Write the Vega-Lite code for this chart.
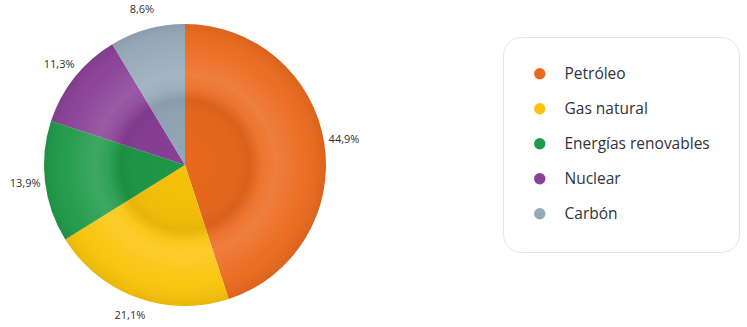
{
  "$schema": "https://vega.github.io/schema/vega-lite/v6.json",
  "width": 370,
  "height": 330,
  "padding": 0,
  "background": "white",
  "config": {
    "view": {"stroke": null},
    "font": "Open Sans"
  },
  "data": {
    "values": [
      {"fuente": "Petróleo", "orden": 1, "porcentaje": 44.9, "etiqueta": "44,9%"},
      {"fuente": "Gas natural", "orden": 2, "porcentaje": 21.1, "etiqueta": "21,1%"},
      {"fuente": "Energías renovables", "orden": 3, "porcentaje": 13.9, "etiqueta": "13,9%"},
      {"fuente": "Nuclear", "orden": 4, "porcentaje": 11.3, "etiqueta": "11,3%"},
      {"fuente": "Carbón", "orden": 5, "porcentaje": 8.6, "etiqueta": "8,6%"}
    ]
  },
  "resolve": {"scale": {"theta": "independent"}},
  "layer": [
    {
      "mark": {"type": "arc", "outerRadius": 141},
      "encoding": {
        "theta": {"field": "porcentaje", "type": "quantitative", "stack": true},
        "order": {"field": "orden", "type": "quantitative"},
        "color": {
          "field": "fuente",
          "type": "nominal",
          "scale": {
            "domain": ["Petróleo", "Gas natural", "Energías renovables", "Nuclear", "Carbón"],
            "range": ["#EB6A1E", "#FAC40A", "#1F9A48", "#8A4096", "#94A9B8"]
          },
          "legend": {
            "title": null,
            "orient": "none",
            "legendX": 503,
            "legendY": 37,
            "symbolType": "circle",
            "symbolSize": 130,
            "symbolStrokeWidth": 0,
            "labelFont": "Open Sans",
            "labelFontSize": 15.5,
            "labelColor": "#2f3240",
            "labelOffset": 17,
            "rowPadding": 18,
            "padding": 29,
            "fillColor": "#ffffff",
            "strokeColor": "#e2e9da",
            "cornerRadius": 18
          }
        }
      }
    },
    {
      "data": {"values": [{"capa": "brillo", "total": 1}]},
      "mark": {
        "type": "arc",
        "outerRadius": 141,
        "fill": {
          "gradient": "radial",
          "x1": 0.5, "y1": 0.5, "r1": 0,
          "x2": 0.5, "y2": 0.5, "r2": 0.5,
          "stops": [
            {"offset": 0, "color": "rgba(0,0,0,0.01)"},
            {"offset": 0.38, "color": "rgba(0,0,0,0.04)"},
            {"offset": 0.46, "color": "rgba(0,0,0,0.08)"},
            {"offset": 0.55, "color": "rgba(255,255,255,0.08)"},
            {"offset": 0.64, "color": "rgba(255,255,255,0.14)"},
            {"offset": 0.85, "color": "rgba(255,255,255,0.03)"},
            {"offset": 1, "color": "rgba(0,0,0,0.07)"}
          ]
        }
      },
      "encoding": {
        "theta": {"field": "total", "type": "quantitative", "stack": true}
      }
    },
    {
      "mark": {"type": "text", "radius": 161, "fontSize": 11, "color": "#2e2e33", "font": "Open Sans"},
      "encoding": {
        "theta": {"field": "porcentaje", "type": "quantitative", "stack": true},
        "order": {"field": "orden", "type": "quantitative"},
        "detail": {"field": "fuente", "type": "nominal"},
        "text": {"field": "etiqueta", "type": "nominal"}
      }
    }
  ]
}
